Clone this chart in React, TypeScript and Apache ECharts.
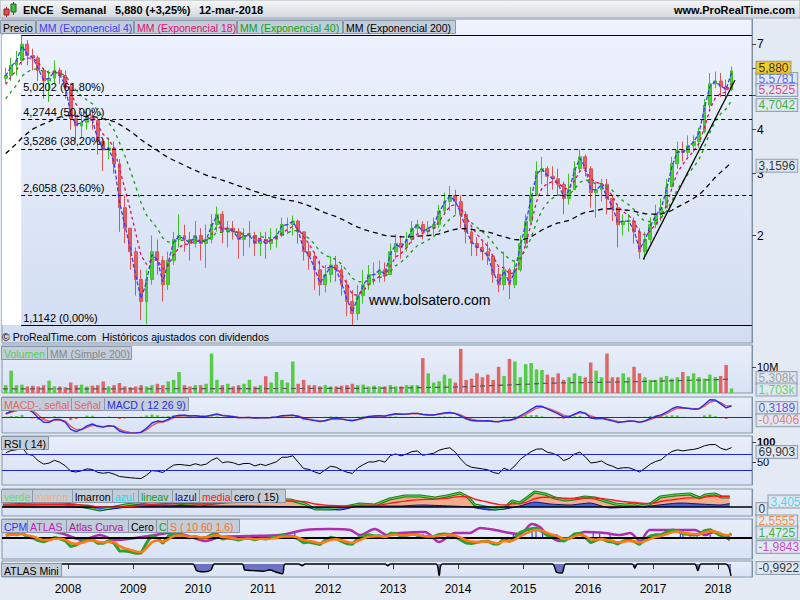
import React, { useEffect, useRef } from "react";
import * as echarts from "echarts";

const FONT = "'Liberation Sans', Arial, sans-serif";

// ---------------- data ----------------
const firstYear = 2007; // first monthly candle = Jan 2007
const yearTicks = [2008, 2009, 2010, 2011, 2012, 2013, 2014, 2015, 2016, 2017, 2018];
const priceLabelTicks = [2, 3, 4, 7];
const priceTickMarks = [2, 3, 4, 5, 6, 7];

// monthly candles [open, close, low, high]
const candles2007 = [
  [5.6, 5.7, 5.4, 6.0], [5.7, 6.1, 5.5, 6.4], [6.1, 6.3, 5.7, 6.7], [6.3, 7.0, 6.1, 7.4],
  [7.0, 6.5, 6.1, 7.2], [6.5, 6.4, 5.9, 6.8], [6.4, 5.9, 5.5, 6.5], [5.9, 5.5, 4.9, 6.0],
  [5.5, 5.6, 4.8, 5.9], [5.6, 5.9, 5.4, 6.3], [5.9, 5.7, 5.4, 6.0], [5.7, 5.3, 4.9, 5.9],
];
const candles2008 = [
  [5.3, 4.3, 4.0, 5.4], [4.3, 4.1, 3.7, 4.5], [4.1, 4.2, 3.8, 4.5], [4.2, 4.35, 4.0, 4.6],
  [4.35, 4.25, 4.0, 4.55], [4.25, 3.7, 3.4, 4.35], [3.7, 3.5, 3.05, 3.8], [3.5, 3.55, 3.3, 3.8],
  [3.55, 3.2, 3.0, 3.7], [3.2, 2.4, 2.05, 3.3], [2.4, 2.1, 1.9, 2.6], [2.1, 1.8, 1.6, 2.1],
];
const candles2009 = [
  [1.8, 1.5, 1.35, 1.85], [1.5, 1.3, 1.15, 1.6], [1.3, 1.5, 1.12, 1.6], [1.5, 1.8, 1.45, 2.0],
  [1.8, 1.7, 1.55, 1.95], [1.7, 1.45, 1.3, 1.75], [1.45, 1.7, 1.4, 1.8], [1.7, 1.95, 1.65, 2.05],
  [1.95, 2.0, 1.85, 2.3], [2.0, 1.95, 1.8, 2.15], [1.95, 1.9, 1.7, 2.05], [1.9, 2.0, 1.85, 2.2],
];
const candles2010 = [
  [2.0, 1.9, 1.7, 2.1], [1.9, 1.95, 1.62, 2.15], [1.95, 2.15, 1.9, 2.3], [2.15, 2.3, 2.05, 2.42],
  [2.3, 2.05, 1.9, 2.35], [2.05, 2.1, 1.85, 2.2], [2.1, 2.05, 1.95, 2.2], [2.05, 1.95, 1.72, 2.1],
  [1.95, 2.0, 1.75, 2.1], [2.0, 2.0, 1.85, 2.2], [2.0, 1.9, 1.75, 2.05], [1.9, 1.95, 1.75, 2.05],
];
const candles2011 = [
  [1.95, 1.9, 1.72, 2.05], [1.9, 1.95, 1.82, 2.1], [1.95, 2.0, 1.85, 2.1], [2.0, 2.15, 1.98, 2.25],
  [2.15, 2.15, 2.02, 2.25], [2.15, 2.2, 2.0, 2.28], [2.2, 2.05, 1.9, 2.22], [2.05, 1.8, 1.7, 2.05],
  [1.8, 1.75, 1.6, 1.9], [1.75, 1.6, 1.4, 1.8], [1.6, 1.45, 1.35, 1.7], [1.45, 1.55, 1.38, 1.65],
];
const candles2012 = [
  [1.55, 1.65, 1.47, 1.75], [1.65, 1.6, 1.48, 1.75], [1.6, 1.45, 1.35, 1.65], [1.45, 1.3, 1.18, 1.5],
  [1.3, 1.2, 1.11, 1.4], [1.2, 1.35, 1.15, 1.45], [1.35, 1.45, 1.28, 1.6], [1.45, 1.55, 1.4, 1.65],
  [1.55, 1.55, 1.45, 1.68], [1.55, 1.6, 1.47, 1.7], [1.6, 1.55, 1.48, 1.68], [1.55, 1.8, 1.55, 1.9],
];
const candles2013 = [
  [1.8, 1.9, 1.72, 2.02], [1.9, 1.85, 1.72, 2.0], [1.85, 1.95, 1.8, 2.05], [1.95, 2.1, 1.9, 2.2],
  [2.1, 2.15, 2.02, 2.22], [2.15, 2.05, 1.95, 2.2], [2.05, 2.1, 2.0, 2.2], [2.1, 2.15, 2.0, 2.25],
  [2.15, 2.35, 2.1, 2.45], [2.35, 2.5, 2.3, 2.65], [2.5, 2.6, 2.35, 2.77], [2.6, 2.5, 2.3, 2.7],
];
const candles2014 = [
  [2.5, 2.3, 2.1, 2.6], [2.3, 2.05, 1.9, 2.35], [2.05, 1.9, 1.75, 2.1], [1.9, 1.85, 1.75, 1.98],
  [1.85, 1.8, 1.7, 1.95], [1.8, 1.75, 1.65, 1.92], [1.75, 1.55, 1.47, 1.75], [1.55, 1.45, 1.38, 1.62],
  [1.45, 1.6, 1.4, 1.8], [1.6, 1.45, 1.32, 1.62], [1.45, 1.6, 1.42, 1.7], [1.6, 1.9, 1.58, 2.0],
];
const candles2015 = [
  [1.9, 2.2, 1.85, 2.3], [2.2, 2.6, 2.15, 2.75], [2.6, 3.05, 2.6, 3.25], [3.05, 3.1, 2.8, 3.35],
  [3.1, 2.95, 2.6, 3.15], [2.95, 2.9, 2.7, 3.15], [2.9, 2.8, 2.6, 3.1], [2.8, 2.55, 2.3, 2.85],
  [2.55, 2.7, 2.45, 3.0], [2.7, 3.1, 2.7, 3.25], [3.1, 3.35, 3.05, 3.52], [3.35, 3.1, 2.95, 3.4],
];
const candles2016 = [
  [3.1, 2.65, 2.4, 3.15], [2.65, 2.7, 2.25, 2.85], [2.7, 2.8, 2.5, 2.9], [2.8, 2.55, 2.3, 2.9],
  [2.55, 2.4, 2.2, 2.6], [2.4, 2.15, 1.85, 2.45], [2.15, 2.2, 2.0, 2.3], [2.2, 2.2, 2.05, 2.3],
  [2.2, 2.05, 1.9, 2.25], [2.05, 1.8, 1.72, 2.1], [1.8, 1.95, 1.71, 2.05], [1.95, 2.15, 1.9, 2.25],
];
const candles2017 = [
  [2.15, 2.3, 2.1, 2.45], [2.3, 2.4, 2.2, 2.55], [2.4, 2.75, 2.4, 2.9], [2.75, 3.2, 2.75, 3.35],
  [3.2, 3.5, 3.1, 3.7], [3.5, 3.45, 3.25, 3.7], [3.45, 3.6, 3.35, 3.85], [3.6, 3.7, 3.45, 3.85],
  [3.7, 3.95, 3.55, 4.05], [3.95, 4.7, 3.9, 4.9], [4.7, 5.4, 4.6, 5.8], [5.4, 5.5, 5.25, 5.85],
];
const candles2018 = [
  [5.5, 5.3, 4.95, 5.8], [5.3, 5.2, 4.86, 5.55], [5.2, 5.88, 5.15, 6.05],
];

// monthly volume (millions)
const volumes2007 = [3, 8.5, 3, 3.2, 2.5, 2.8, 2.5, 3, 4.7, 2.5, 2.5, 2.2];
const volumes2008 = [4, 3, 3.2, 2.5, 2.8, 3, 4.4, 2.5, 3, 3.8, 2.5, 2.2];
const volumes2009 = [2.5, 3, 2.5, 3, 3.5, 3, 4.4, 5, 8, 3, 2.5, 3];
const volumes2010 = [3, 3.5, 15, 5, 3, 3.5, 2.5, 3, 3.5, 5, 2.5, 3];
const volumes2011 = [6.4, 4, 8, 5, 4, 12, 3.5, 5, 3, 3, 2.5, 3];
const volumes2012 = [2.5, 2.5, 2.8, 3, 3.5, 3, 3.2, 2.5, 2.8, 2.5, 2.5, 3];
const volumes2013 = [2.5, 2.5, 3, 3, 3, 13.3, 7.5, 4, 4.5, 7, 5.5, 4];
const volumes2014 = [16.8, 5, 5.5, 7.5, 6, 7, 5, 10, 6.5, 13, 12, 6];
const volumes2015 = [11, 11.4, 9, 8.8, 7, 6, 7.5, 5, 6, 7.5, 6.5, 6];
const volumes2016 = [11.6, 8.5, 6, 15, 6, 6, 7.5, 6, 10, 7.5, 6, 5];
const volumes2017 = [5, 6, 6.5, 5.5, 6, 8, 6.5, 7.5, 6, 5.5, 7, 6];
const volumes2018 = [6.5, 10.7, 1.703];

// simple 200 moving average of volume, read at points [year, millions]
const volumeMA200 = [
  [2007.0, 1.6], [2008.0, 1.6], [2009.0, 1.6], [2010.0, 1.65], [2011.0, 1.7], [2012.0, 1.75],
  [2013.0, 1.9], [2013.5, 2.1], [2014.0, 2.3], [2014.5, 2.8], [2015.0, 3.3], [2015.5, 3.8],
  [2016.0, 4.0], [2016.5, 4.2], [2017.0, 4.5], [2017.5, 4.8], [2018.0, 5.1], [2018.2, 5.308],
];

const emaPeriods = [4, 18, 40, 200];
const emaSeeds = [5.55, 5.19, 4.7, 3.32]; // values of the averages at the start of the chart
const lastEmaValues = [5.5781, 5.2525, 4.7042, 3.1596];
const lastPrice = 5.88;
const macdSeeds = [5.55, 5.45, 0.08]; // ema12, ema26, signal at start
const rsiSeeds = [0.2, 0.08]; // average gain, average loss at start
const lastMacd = [0.3189, -0.0406];
const lastRsi = 69.903;
const lastVolume = [5.308, 1.703]; // MA200, volume

// Fibonacci retracement
const fibValues = [7.4346, 5.0202, 4.2744, 3.5286, 2.6058, 1.1142];
const fibPercents = ["100,00%", "61,80%", "50,00%", "38,20%", "23,60%", "0,00%"];
const fibStartYear = 2007.28;
const trendLine = [[2016.85, 1.71], [2018.26, 5.53]];

// proprietary indicator panels, read as points [year, value]
const verdePoints = [
  [2007.0, 2], [2007.5, 3], [2007.91, 3], [2008.11, 2], [2008.34, -1], [2008.49, -3], [2008.65, -1],
  [2008.88, 2], [2009.11, 4], [2009.34, 6], [2009.57, 5], [2009.8, 3], [2010.03, 2], [2010.26, 4],
  [2010.49, 7], [2010.8, 6], [2011.11, 8], [2011.42, 7], [2011.65, 3], [2011.8, -2], [2012.03, -2],
  [2012.26, 0], [2012.49, 3], [2012.72, 2], [2012.95, 8], [2013.18, 11], [2013.42, 11], [2013.65, 9],
  [2013.83, 11], [2014.03, 14], [2014.15, 10], [2014.26, 2], [2014.42, 0], [2014.57, -2], [2014.72, -1],
  [2014.83, 6], [2014.95, 4], [2015.08, 10], [2015.18, 15], [2015.34, 13], [2015.49, 9], [2015.65, 7],
  [2015.8, 8], [2015.95, 10], [2016.11, 9], [2016.26, 6], [2016.42, 3], [2016.57, 2], [2016.72, 3],
  [2016.88, 1], [2016.98, 4], [2017.11, 10], [2017.34, 12], [2017.57, 13], [2017.72, 9], [2017.8, 12],
  [2017.95, 13], [2018.06, 10], [2018.18, 10],
];
const azulPoints = [
  [2007.0, 0], [2007.91, 0], [2008.34, -1], [2008.49, -3], [2008.8, -1], [2009.11, 2], [2009.42, 2],
  [2010.03, 1], [2010.65, 1], [2011.57, 0], [2011.88, -2], [2012.18, -3], [2012.49, 1], [2013.11, 1],
  [2013.42, 2], [2013.88, 1], [2014.18, 0], [2014.49, -3], [2014.72, -2], [2014.95, 1], [2015.18, 5],
  [2015.42, 3], [2015.72, 2], [2016.03, 4], [2016.34, -1], [2016.65, 0], [2016.95, 1], [2017.42, 4],
  [2017.72, 3], [2018.03, 2], [2018.18, 3.405],
];
const atlasPoints = [
  [2007.0, 6], [2007.5, 7], [2007.88, 5], [2008.23, -2], [2008.49, 3], [2008.72, -2], [2009.03, 0],
  [2009.34, 3], [2009.57, 5], [2009.8, 3], [2010.11, -3], [2010.34, 1], [2010.8, 2], [2011.26, 3],
  [2011.65, 8], [2012.03, 9], [2012.34, 8], [2012.49, 3], [2012.72, 9], [2012.91, 3], [2013.11, 5],
  [2013.49, 6], [2013.71, -4], [2013.95, 5], [2014.18, 5], [2014.34, 10], [2014.57, 8], [2014.8, 5],
  [2014.95, 4], [2015.14, 14], [2015.26, 11], [2015.38, 3], [2015.57, -3], [2015.72, 0], [2015.95, 6],
  [2016.26, 5], [2016.49, 3], [2016.65, 5], [2016.8, -3], [2016.95, 8], [2017.26, 8], [2017.65, 8],
  [2017.8, 3], [2017.95, 6], [2018.18, -1.9843],
];
const cpmSpikes = [
  [2009.6, 5], [2009.7, 4], [2010.18, 4], [2011.49, 5], [2012.9, 4], [2013.11, 5], [2013.2, 5],
  [2013.37, 4], [2013.46, 4], [2014.85, 4], [2014.95, 4], [2015.14, 7], [2015.2, 7], [2015.3, 5],
  [2015.52, 4], [2016.08, 5], [2016.18, 5], [2016.34, 4], [2017.42, 7], [2017.46, 7], [2017.57, 4],
  [2017.68, 4], [2017.88, 3],
];
const atlasMiniPoints = [
  [2007.0, 0], [2009.92, 0], [2009.98, -0.55], [2010.1, -0.65], [2010.2, -0.5], [2010.25, 0],
  [2010.68, 0], [2010.72, -0.5], [2010.85, -0.55], [2011.0, -0.6], [2011.1, -0.5], [2011.22, -0.7],
  [2011.3, -0.8], [2011.34, 0], [2011.55, 0], [2011.6, -0.15], [2011.65, 0], [2012.88, 0],
  [2012.92, -0.15], [2012.96, 0], [2013.66, 0], [2013.71, -0.95], [2013.76, 0], [2015.45, 0],
  [2015.52, -0.7], [2015.6, -0.75], [2015.66, 0], [2016.68, 0], [2016.72, -0.35], [2016.76, 0],
  [2017.64, 0], [2017.69, -0.55], [2017.74, 0], [2018.12, 0], [2018.2, -0.9922],
];
const cpmLabels = [2.5555, 1.4725, -1.9843];

// ---------------- helpers ----------------
const X_MIN = 2006.9846;
const X_MAX = 2018.523;

const PANELS = [
  { top: 19, height: 324 },
  { top: 345, height: 48 },
  { top: 397, height: 36 },
  { top: 436, height: 49 },
  { top: 489, height: 27 },
  { top: 519, height: 40 },
  { top: 561, height: 16 },
];

const es = (v: number, d: number) => v.toFixed(d).replace(".", ",");
const monthlyAlpha = (n: number) => 1 - Math.pow(1 - 2 / (n + 1), 52 / 12);
function ema(vals: number[], alpha: number, seed: number) {
  let e = seed;
  return vals.map((v) => (e = e + alpha * (v - e)));
}

function tag(v: number, text: string, color: string, bg = "#dfe7f1", dy = 0, dx = 0) {
  return {
    value: [X_MAX, v],
    label: {
      show: true,
      position: "right",
      distance: 4,
      offset: [dx, dy],
      formatter: text,
      color,
      backgroundColor: bg,
      borderColor: "#8190a3",
      borderWidth: 1,
      padding: [1, 2, 0, 2],
      fontSize: 12,
      lineHeight: 11,
      fontFamily: FONT,
    },
  };
}
function tagSeries(i: number, data: any[]) {
  return {
    type: "scatter",
    xAxisIndex: i,
    yAxisIndex: i,
    data,
    symbolSize: 1,
    itemStyle: { color: "rgba(0,0,0,0)" },
    clip: false,
    silent: true,
    z: 20,
  };
}

function box(x: number, y: number, w: number, text: string, color: string, fill = "#c3cdd9") {
  return [
    { type: "rect", z: 100, shape: { x: x + 0.5, y: y + 0.5, width: w, height: 13 }, style: { fill, stroke: "#8796a8", lineWidth: 1 } },
    { type: "text", z: 101, x: x + 3, y: y + 7.5, style: { text, fill: color, font: `10.5px ${FONT}`, verticalAlign: "middle", align: "left" } },
  ];
}

function buildOption() {
  const candles = [
    ...candles2007, ...candles2008, ...candles2009, ...candles2010, ...candles2011, ...candles2012,
    ...candles2013, ...candles2014, ...candles2015, ...candles2016, ...candles2017, ...candles2018,
  ];
  const volumes = [
    ...volumes2007, ...volumes2008, ...volumes2009, ...volumes2010, ...volumes2011, ...volumes2012,
    ...volumes2013, ...volumes2014, ...volumes2015, ...volumes2016, ...volumes2017, ...volumes2018,
  ];
  const months = candles.map((_, i) => firstYear + (i + 0.5) / 12);
  const closes = candles.map((c) => c[1]);
  const up = candles.map((c) => c[1] >= c[0]);

  const emas = emaPeriods.map((n, k) => ema(closes, monthlyAlpha(n), emaSeeds[k]));
  const e12 = ema(closes, monthlyAlpha(12), macdSeeds[0]);
  const e26 = ema(closes, monthlyAlpha(26), macdSeeds[1]);
  const macd = e12.map((v, i) => v - e26[i]);
  const signal = ema(macd, monthlyAlpha(9), macdSeeds[2]);
  const hist = macd.map((v, i) => v - signal[i]);

  // Wilder RSI(14) on the monthly bars
  const aR = 1 - Math.pow(1 - 1 / 14, 2);
  let ag = rsiSeeds[0], al = rsiSeeds[1];
  const rsi = closes.map((c, i) => {
    const ch = c - (i === 0 ? candles[0][0] : closes[i - 1]);
    ag += aR * (Math.max(ch, 0) - ag);
    al += aR * (Math.max(-ch, 0) - al);
    return (100 * ag) / (ag + al);
  });

  const cLine = closes.map((c, i) => 50 * Math.log(c / emas[1][i]));
  const sLine = ema(cLine, 0.45, cLine[0]);
  const csBase = cLine.map((v, i) => Math.min(v, sLine[i]));
  const csUp = cLine.map((v, i) => Math.max(v - sLine[i], 0));
  const csDown = cLine.map((v, i) => Math.max(sLine[i] - v, 0));

  let me = verdePoints[0][1];
  const media = verdePoints.map((p) => [p[0], (me = me + 0.3 * (p[1] - me))]);

  const pts = (arr: number[]) => arr.map((v, i) => [months[i], v]);

  const grid = PANELS.map((p, i) => ({
    left: 2,
    right: 48,
    top: p.top,
    height: p.height,
    show: true,
    borderColor: "#8796a8",
    borderWidth: 1,
    containLabel: false,
    outerBoundsMode: "none",
    backgroundColor: new echarts.graphic.LinearGradient(0, 0, 0, 1, [
      { offset: 0, color: i === 0 ? "#eef3fd" : "#e8eefa" },
      { offset: 1, color: i === 0 ? "#d2ddf2" : "#d9e3f5" },
    ]),
  }));

  const xAxis = PANELS.map((_, i) => ({
    type: "value",
    gridIndex: i,
    min: X_MIN,
    max: X_MAX,
    axisLine: { show: false },
    splitLine: { show: false },
    axisTick: { show: i === 6, customValues: yearTicks, length: 5, lineStyle: { color: "#333" } },
    axisLabel: {
      show: i === 6,
      customValues: yearTicks,
      formatter: (v: number) => String(Math.round(v)),
      fontSize: 12,
      color: "#000",
      fontFamily: FONT,
      margin: 6,
    },
  }));

  const axisLineStyle = { show: true, lineStyle: { color: "#7f8fa3" } };
  const plainY = (i: number, min: number, max: number) => ({
    type: "value",
    gridIndex: i,
    position: "right",
    min,
    max,
    axisLine: axisLineStyle,
    splitLine: { show: false },
    axisTick: { show: false },
    axisLabel: { show: false },
  });

  const yAxis: any[] = [
    {
      type: "log",
      gridIndex: 0,
      position: "right",
      min: 0.9904,
      max: 8.255,
      axisLine: axisLineStyle,
      splitLine: { show: false },
      axisTick: { show: true, customValues: priceTickMarks, length: 4, lineStyle: { color: "#444" } },
      axisLabel: {
        customValues: priceLabelTicks,
        formatter: (v: number) => String(Math.round(v)),
        fontSize: 12,
        color: "#000",
        fontFamily: FONT,
        margin: 5,
      },
    },
    {
      ...plainY(1, 0, 18.3),
      axisTick: { show: true, customValues: [10], length: 4, lineStyle: { color: "#444" } },
      axisLabel: { customValues: [10], formatter: () => "10M", fontSize: 11, color: "#000", fontFamily: FONT, margin: 5 },
    },
    plainY(2, -0.516, 0.645),
    {
      ...plainY(3, -8, 115),
      axisTick: { show: true, customValues: [50, 100], length: 4, lineStyle: { color: "#444" } },
      axisLabel: {
        customValues: [50, 100],
        formatter: (v: number) => (v === 100 ? "{b|100}" : "50"),
        rich: { b: { fontWeight: "bold", fontSize: 11, fontFamily: FONT } },
        fontSize: 11,
        color: "#000",
        fontFamily: FONT,
        margin: 5,
      },
    },
    plainY(4, -9, 18),
    plainY(5, -21, 19),
    plainY(6, -1.08, 0.25),
  ];

  const emaStyles = [
    { color: "#3a3aff", type: [4, 2] },
    { color: "#e0106e", type: [3, 3] },
    { color: "#159a15", type: [3, 4] },
    { color: "#000000", type: [5, 4] },
  ];
  const emaColors = ["#3c3cff", "#e0106e", "#10a010", "#000000"];

  const fibLines = fibValues.map((v, k) => [
    {
      coord: [fibStartYear, v],
      lineStyle: { type: k === 0 || k === fibValues.length - 1 ? "solid" : [4, 3], color: "#000", width: 1 },
      label: {
        show: k !== 0,
        formatter: `${es(v, 4)} (${fibPercents[k]})`,
        position: "insideStartTop",
        distance: 2,
        color: "#000",
        fontSize: 11,
        fontFamily: FONT,
      },
    },
    { coord: [X_MAX, v] },
  ]);
  const trend = [
    { coord: trendLine[0], lineStyle: { type: "solid", color: "#000", width: 1.3 }, label: { show: false } },
    { coord: trendLine[1] },
  ];

  const series: any[] = [
    // white zone before the top of the retracement
    {
      type: "line",
      xAxisIndex: 0,
      yAxisIndex: 0,
      data: [[X_MIN, 2]],
      showSymbol: false,
      lineStyle: { opacity: 0 },
      silent: true,
      z: 1,
      markArea: {
        silent: true,
        itemStyle: { color: "#ffffff" },
        data: [[{ coord: [X_MIN, fibValues[0]] }, { coord: [fibStartYear, fibValues[fibValues.length - 1]] }]],
      },
    },
    {
      type: "candlestick",
      xAxisIndex: 0,
      yAxisIndex: 0,
      data: candles.map((c, i) => [months[i], c[0], c[1], c[2], c[3]]),
      encode: { x: 0, y: [1, 2, 3, 4] },
      barWidth: 3.4,
      itemStyle: { color: "#4ccf35", color0: "#e3605e", borderColor: "#3fbf2a", borderColor0: "#d85654", borderWidth: 1 },
      z: 3,
    },
    ...emas.map((vals, k) => ({
      type: "line",
      xAxisIndex: 0,
      yAxisIndex: 0,
      data: pts(vals),
      showSymbol: false,
      lineStyle: { width: 1.3, ...emaStyles[k] },
      z: 4,
      ...(k === 3
        ? {
            markLine: {
              silent: true,
              symbol: ["none", "none"],
              data: [...fibLines, trend],
            },
          }
        : {}),
    })),
    tagSeries(0, [
      tag(lastEmaValues[0], es(lastEmaValues[0], 4), emaColors[0]),
      tag(lastPrice, es(lastPrice, 3), "#000", "#f5c400", -3),
      tag(lastEmaValues[1], es(lastEmaValues[1], 4), emaColors[1], "#dfe7f1", 2),
      tag(lastEmaValues[2], es(lastEmaValues[2], 4), emaColors[2]),
      tag(lastEmaValues[3], es(lastEmaValues[3], 4), emaColors[3]),
    ]),

    // volume
    {
      type: "bar",
      xAxisIndex: 1,
      yAxisIndex: 1,
      barWidth: 3.5,
      data: volumes.map((v, i) => ({ value: [months[i], v], itemStyle: { color: up[i] ? "#55cc44" : "#e06666" } })),
    },
    {
      type: "line",
      xAxisIndex: 1,
      yAxisIndex: 1,
      data: volumeMA200,
      showSymbol: false,
      smooth: true,
      lineStyle: { color: "#555", width: 1.2, type: [5, 4] },
    },
    tagSeries(1, [
      tag(lastVolume[0], es(lastVolume[0], 3) + "k", "#888888", "#dfe7f1", -1),
      tag(lastVolume[1], es(lastVolume[1], 3) + "k", "#44cc44", "#dfe7f1", 1),
    ]),

    // MACD
    {
      type: "bar",
      xAxisIndex: 2,
      yAxisIndex: 2,
      barWidth: 3,
      data: hist.map((v, i) => ({ value: [months[i], v], itemStyle: { color: v >= 0 ? "#55cc44" : "#e06666" } })),
    },
    {
      type: "line",
      xAxisIndex: 2,
      yAxisIndex: 2,
      data: pts(signal),
      showSymbol: false,
      lineStyle: { color: "#e06060", width: 1.5 },
    },
    {
      type: "line",
      xAxisIndex: 2,
      yAxisIndex: 2,
      data: pts(macd),
      showSymbol: false,
      lineStyle: { color: "#2a2ae8", width: 1.4 },
      markLine: {
        silent: true,
        symbol: ["none", "none"],
        label: { show: false },
        lineStyle: { color: "#2020e0", type: "solid", width: 1.2 },
        data: [{ yAxis: 0 }],
      },
    },
    tagSeries(2, [
      tag(lastMacd[0], es(lastMacd[0], 4), "#2a2ae8", "#dfe7f1", 1),
      tag(lastMacd[1], es(lastMacd[1], 4), "#e06060", "#dfe7f1", 2),
    ]),

    // RSI
    {
      type: "line",
      xAxisIndex: 3,
      yAxisIndex: 3,
      data: months.map((t) => [t, 70]),
      stack: "rsiHi",
      showSymbol: false,
      lineStyle: { opacity: 0 },
      silent: true,
    },
    {
      type: "line",
      xAxisIndex: 3,
      yAxisIndex: 3,
      data: rsi.map((r, i) => [months[i], Math.max(r - 70, 0)]),
      stack: "rsiHi",
      showSymbol: false,
      lineStyle: { opacity: 0 },
      areaStyle: { color: "#b89595", opacity: 1 },
      silent: true,
    },
    {
      type: "line",
      xAxisIndex: 3,
      yAxisIndex: 3,
      data: pts(rsi),
      showSymbol: false,
      lineStyle: { color: "#000", width: 1 },
      markLine: {
        silent: true,
        symbol: ["none", "none"],
        label: { show: false },
        lineStyle: { color: "#2222dd", type: "solid", width: 1.2 },
        data: [{ yAxis: 70 }, { yAxis: 30 }],
      },
    },
    tagSeries(3, [tag(lastRsi, es(lastRsi, 3), "#000", "#dfe7f1", -2)]),

    // verde / marron / azul panel
    {
      type: "line",
      xAxisIndex: 4,
      yAxisIndex: 4,
      data: verdePoints,
      showSymbol: false,
      lineStyle: { color: "#1b7f1b", width: 3 },
      areaStyle: { color: "#f2ad8c", opacity: 1, origin: 0 },
      z: 2,
    },
    {
      type: "line",
      xAxisIndex: 4,
      yAxisIndex: 4,
      data: azulPoints,
      showSymbol: false,
      smooth: 0.2,
      lineStyle: { color: "#101080", width: 1 },
      areaStyle: { color: "#3f62e0", opacity: 1, origin: 0 },
      z: 3,
    },
    {
      type: "line",
      xAxisIndex: 4,
      yAxisIndex: 4,
      data: verdePoints,
      showSymbol: false,
      lineStyle: { color: "#5ede4e", width: 1 },
      z: 4,
    },
    {
      type: "line",
      xAxisIndex: 4,
      yAxisIndex: 4,
      data: media,
      showSymbol: false,
      smooth: true,
      lineStyle: { color: "#ff1a1a", width: 1.4 },
      z: 5,
      markLine: {
        silent: true,
        symbol: ["none", "none"],
        label: { show: false },
        lineStyle: { color: "#000", type: "solid", width: 1.5 },
        data: [{ yAxis: 0 }],
      },
    },
    tagSeries(4, [
      tag(azulPoints[azulPoints.length - 1][1], es(azulPoints[azulPoints.length - 1][1], 3), "#22d0f0", "#dfe7f1", -2, 12),
      tag(0, "0", "#000", "#dfe7f1", 2),
    ]),

    // CPM / ATLAS panel
    {
      type: "line", xAxisIndex: 5, yAxisIndex: 5, data: pts(csBase), stack: "cs", stackStrategy: "all",
      showSymbol: false, lineStyle: { opacity: 0 }, silent: true,
    },
    {
      type: "line", xAxisIndex: 5, yAxisIndex: 5, data: pts(csUp), stack: "cs", stackStrategy: "all",
      showSymbol: false, lineStyle: { opacity: 0 }, areaStyle: { color: "#7dbb7a", opacity: 1 }, silent: true,
    },
    {
      type: "line", xAxisIndex: 5, yAxisIndex: 5, data: pts(csDown), stack: "cs", stackStrategy: "all",
      showSymbol: false, lineStyle: { opacity: 0 }, areaStyle: { color: "#b48c7c", opacity: 1 }, silent: true,
    },
    {
      type: "bar",
      xAxisIndex: 5,
      yAxisIndex: 5,
      barWidth: 1,
      data: cpmSpikes,
      itemStyle: { color: "#2020ff" },
    },
    {
      type: "line",
      xAxisIndex: 5,
      yAxisIndex: 5,
      data: atlasPoints,
      showSymbol: false,
      smooth: 0.3,
      lineStyle: { color: "#b02cb0", width: 2.5 },
      z: 3,
      markLine: {
        silent: true,
        symbol: ["none", "none"],
        label: { show: false },
        lineStyle: { color: "#000", type: "solid", width: 2 },
        data: [{ yAxis: 0 }],
      },
    },
    {
      type: "line",
      xAxisIndex: 5,
      yAxisIndex: 5,
      data: pts(cLine),
      showSymbol: false,
      lineStyle: { color: "#27a035", width: 3 },
      z: 4,
    },
    {
      type: "line",
      xAxisIndex: 5,
      yAxisIndex: 5,
      data: pts(sLine),
      showSymbol: false,
      smooth: true,
      lineStyle: { color: "#ff7a12", width: 2.5 },
      z: 5,
    },
    tagSeries(5, [
      tag(cpmLabels[0], es(cpmLabels[0], 4), "#ff7a12", "#dfe7f1", -14),
      tag(cpmLabels[1], es(cpmLabels[1], 4), "#10a010", "#dfe7f1", -4),
      tag(cpmLabels[2], es(cpmLabels[2], 4), "#c020c0", "#dfe7f1", 7),
    ]),

    // ATLAS Mini
    {
      type: "line",
      xAxisIndex: 6,
      yAxisIndex: 6,
      data: atlasMiniPoints,
      showSymbol: false,
      smooth: 0.3,
      lineStyle: { color: "#000", width: 1.5 },
      areaStyle: { color: "#6d72c4", opacity: 1, origin: 0 },
    },
    tagSeries(6, [tag(atlasMiniPoints[atlasMiniPoints.length - 1][1], es(-0.9922, 4), "#000", "#dfe7f1", -8)]),
  ];

  const hdrFont = `bold 11px ${FONT}`;
  const graphic: any[] = [
    {
      type: "rect",
      z: 100,
      shape: { x: 0, y: 0, width: 800, height: 18 },
      style: {
        fill: new echarts.graphic.LinearGradient(0, 0, 0, 1, [
          { offset: 0, color: "#f6f7f8" },
          { offset: 1, color: "#d3d8de" },
        ]),
        stroke: "#a8b0ba",
        lineWidth: 1,
      },
    },
    { type: "line", z: 101, shape: { x1: 6.5, y1: 7, x2: 6.5, y2: 17 }, style: { stroke: "#8a2020", lineWidth: 1 } },
    { type: "rect", z: 102, shape: { x: 4, y: 9, width: 5, height: 6 }, style: { fill: "#e05050", stroke: "#902020", lineWidth: 1 } },
    { type: "line", z: 101, shape: { x1: 13.5, y1: 2, x2: 13.5, y2: 15 }, style: { stroke: "#206020", lineWidth: 1 } },
    { type: "rect", z: 102, shape: { x: 11, y: 4, width: 5, height: 8 }, style: { fill: "#40c040", stroke: "#206020", lineWidth: 1 } },
    { type: "text", z: 101, x: 23, y: 10, style: { text: "ENCE", font: hdrFont, fill: "#000", verticalAlign: "middle" } },
    { type: "text", z: 101, x: 61, y: 10, style: { text: "Semanal", font: hdrFont, fill: "#000", verticalAlign: "middle" } },
    { type: "text", z: 101, x: 115, y: 10, style: { text: "5,880 (+3,25%)", font: hdrFont, fill: "#000", verticalAlign: "middle" } },
    { type: "text", z: 101, x: 199, y: 10, style: { text: "12-mar-2018", font: hdrFont, fill: "#000", verticalAlign: "middle" } },
    { type: "text", z: 101, x: 795, y: 10, style: { text: "www.ProRealTime.com", font: hdrFont, fill: "#000", align: "right", verticalAlign: "middle" } },

    ...box(0, 20, 35, "Precio", "#000"),
    ...box(36, 20, 97, "MM (Exponencial 4)", "#3c3cff"),
    ...box(134, 20, 102, "MM (Exponencial 18)", "#e0106e"),
    ...box(237, 20, 105, "MM (Exponencial 40)", "#10a010"),
    ...box(343, 20, 112, "MM (Exponencial 200)", "#000"),

    { type: "text", z: 101, x: 369, y: 300, style: { text: "www.bolsatero.com", font: `14px ${FONT}`, fill: "#000", verticalAlign: "middle" } },
    { type: "text", z: 101, x: 2, y: 337, style: { text: "© ProRealTime.com  Históricos ajustados con dividendos", font: `10.5px ${FONT}`, fill: "#000", verticalAlign: "middle" } },

    ...box(1, 346, 46, "Volumen", "#55cc55"),
    ...box(47, 346, 84, "MM (Simple 200)", "#888888"),

    ...box(1, 397, 70, "MACD-, señal", "#e06666"),
    ...box(71, 397, 33, "Señal", "#e06666"),
    ...box(104, 397, 84, "MACD ( 12 26 9)", "#2a2ae8"),

    ...box(1, 436, 47, "RSI ( 14)", "#000"),

    ...box(1, 489, 31, "verde", "#66dd66"),
    ...box(32, 489, 40, "marron", "#f4ad88"),
    ...box(72, 489, 40, "lmarron", "#000"),
    ...box(112, 489, 26, "azul", "#22d8f0"),
    ...box(138, 489, 34, "lineav", "#119911"),
    ...box(172, 489, 27, "lazul", "#101080"),
    ...box(199, 489, 32, "media", "#ff1010"),
    ...box(231, 489, 54, "cero ( 15)", "#000"),

    ...box(1, 519, 26, "CPM", "#3333ff"),
    ...box(27, 519, 39, "ATLAS", "#c020c0"),
    ...box(66, 519, 62, "Atlas Curva", "#a020a0"),
    ...box(128, 519, 28, "Cero", "#000"),
    ...box(156, 519, 11, "C", "#10a010"),
    ...box(167, 519, 72, "S ( 10 60 1.6)", "#ff7010"),

    ...box(1, 563, 60, "ATLAS Mini", "#000"),
  ];

  return {
    animation: false,
    backgroundColor: "#e4eaf4",
    textStyle: { fontFamily: FONT },
    grid,
    xAxis,
    yAxis,
    series,
    graphic,
  };
}

export default function App() {
  const ref = useRef<HTMLDivElement>(null);
  useEffect(() => {
    const chart = echarts.init(ref.current as HTMLDivElement, undefined, { renderer: "svg" });
    chart.setOption(buildOption() as any);
    return () => chart.dispose();
  }, []);
  return <div ref={ref} style={{ position: "fixed", left: 0, top: 0, width: 800, height: 600 }} />;
}
